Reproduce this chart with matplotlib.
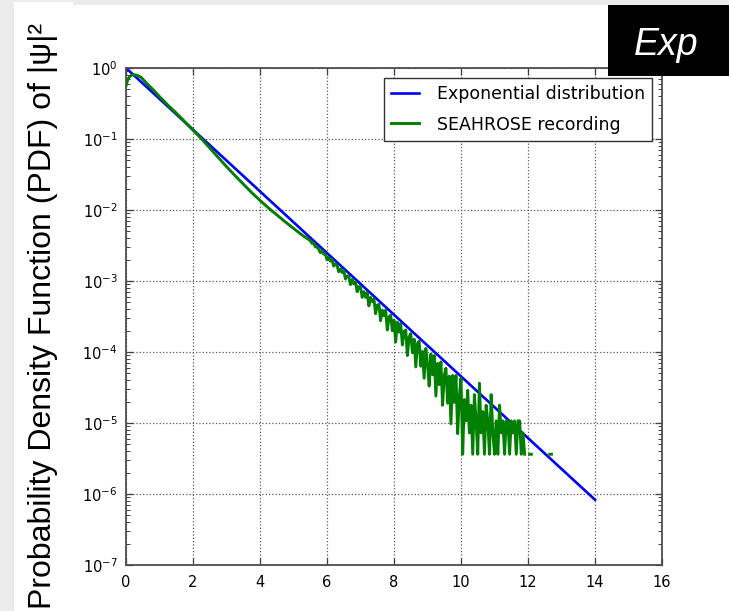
import matplotlib
matplotlib.use("Agg")
import matplotlib.pyplot as plt
from matplotlib.patches import Rectangle
import numpy as np

# exponential distribution, straight line on the semilog axis
expo_x = [0.0, 14.0]
expo_y = [1.0, 8.3e-7]

# SEAHROSE recording, smooth head of the PDF
rec_head_x = [0.0, 0.05, 0.1, 0.15, 0.2, 0.27, 0.35, 0.45, 0.6, 0.8, 1.0, 1.25,
              1.5, 1.75, 2.0, 2.25, 2.5, 2.75, 3.0, 3.25, 3.5, 3.75, 4.0, 4.25,
              4.5, 4.75, 5.0, 5.25]
rec_head_y = [0.56, 0.68, 0.75, 0.785, 0.80, 0.80, 0.78, 0.74, 0.62, 0.50,
              0.395, 0.30, 0.232, 0.176, 0.134, 0.101, 0.0747, 0.0550, 0.0408,
              0.0307, 0.0233, 0.0176, 0.01365, 0.0107, 0.00855, 0.00683, 0.00553,
              0.00446]

# noisy tail, histogram bins of width 0.05 starting at 5.5 (log10 of the PDF)
tail_bin_start = 5.5
tail_bin_width = 0.05
nan = float("nan")
rec_tail_log10 = [
    -2.43, -2.47, -2.46, -2.52, -2.52, -2.55, -2.60, -2.57, -2.62, -2.62,
    -2.70, -2.67, -2.72, -2.70, -2.79, -2.76, -2.78, -2.87, -2.83, -2.88,
    -2.85, -2.97, -2.93, -2.93, -3.05, -2.98, -3.04, -3.01, -3.15, -3.08,
    -3.08, -3.23, -3.15, -3.23, -3.16, -3.35, -3.23, -3.29, -3.25, -3.46,
    -3.34, -3.33, -3.56, -3.41, -3.49, -3.41, -3.69, -3.51, -3.48, -3.70,
    -3.55, -3.86, -3.58, -3.72, -3.60, -3.90, -3.71, -3.69, -4.05, -3.79,
    -3.74, -4.01, -3.82, -4.21, -3.88, -3.85, -4.20, -3.99, -4.37, -3.95,
    -4.16, -4.48, -4.03, -4.32, -4.05, -4.62, -4.16, -4.46, -4.14, -4.75,
    -4.33, -4.23, -4.72, -4.34, -5.01, -4.33, -4.71, -4.33, -5.15, -4.62,
    -4.37, -5.44, -4.67, -4.97, -4.54, -5.14, -4.75, -5.44, -4.60, -4.97,
    -5.44, -4.44, -5.14, -4.84, -5.44, -4.75, -4.97, -5.44, -4.60, -5.14,
    -5.44, -4.97, -5.44, -4.75, -5.14, -4.97, -5.44, -4.97, -4.97, -5.44,
    -4.97, -5.14, -4.97, -5.44, -4.97, -4.97, -5.44, -5.14, -5.44, nan,
    nan, -5.44, -5.44, nan, nan, nan, nan, nan, nan, nan,
    nan, nan, nan, -5.44, -5.44,
]

x_ticks = [0, 2, 4, 6, 8, 10, 12, 14, 16]
legend_labels = ["Exponential distribution", "SEAHROSE recording"]
ylabel_text = "Probability Density Function (PDF) of |\u03c8|\u00b2"
badge_text = "Exp"

plt.rcParams["font.family"] = ["DejaVu Sans"]
plt.rcParams["axes.unicode_minus"] = False

W, H = 729, 611
fig = plt.figure(figsize=(W / 100, H / 100), dpi=100, facecolor="#ececec")

# white slide panel behind everything
fig.patches.append(Rectangle((14 / W, 0), 1 - 14 / W, 1 - 5 / H, transform=fig.transFigure,
                             facecolor="white", edgecolor="none", zorder=-10))
fig.patches.append(Rectangle((14 / W, 1 - 5 / H), 59 / W, 3 / H, transform=fig.transFigure,
                             facecolor="white", edgecolor="none", zorder=-10))

ax = fig.add_axes([126 / W, 1 - 565 / H, 536 / W, 497 / H])

tail_idx = np.arange(len(rec_tail_log10))
tail_x = tail_bin_start + tail_bin_width * tail_idx
tail_y = 10.0 ** np.array(rec_tail_log10)
rec_x = np.concatenate([rec_head_x, tail_x])
rec_y = np.concatenate([rec_head_y, tail_y])

ax.plot(expo_x, expo_y, color="#0000ff", lw=1.9, label=legend_labels[0])
ax.plot(rec_x, rec_y, color="#007f00", lw=2.1, label=legend_labels[1])

ax.set_yscale("log")
ax.set_xlim(0, 16)
ax.set_ylim(1e-7, 1)
ax.set_xticks(x_ticks)
ax.set_yticks([10.0 ** k for k in range(-7, 1)])

ax.grid(True, which="major", color="0.35", linestyle=":", linewidth=0.9)
ax.tick_params(which="both", direction="in", top=True, right=True,
               labelsize=10.5, color="0.25")
ax.tick_params(which="major", length=5, width=0.9)
ax.tick_params(which="minor", length=3, width=0.7)
ax.tick_params(axis="x", pad=7)
ax.tick_params(axis="y", pad=6)
for sp in ax.spines.values():
    sp.set_color("0.3")
    sp.set_linewidth(1.3)

leg = ax.legend(loc="upper right", fontsize=12.5, fancybox=False, framealpha=1,
                edgecolor="0.2", handlelength=1.6, handletextpad=1.0,
                labelspacing=0.7, borderpad=0.45, borderaxespad=0.55)
leg.get_frame().set_linewidth(1.0)

fig.text(43 / W, 1 - 316 / H, ylabel_text, rotation=90, ha="center", va="center",
         fontsize=23, family="Liberation Sans", color="black")

# black badge in the corner
fig.patches.append(Rectangle((608 / W, 1 - 76 / H), 121 / W, 71 / H, transform=fig.transFigure,
                             facecolor="black", edgecolor="none", zorder=5))
fig.text(666 / W, 1 - 55 / H, badge_text, ha="center", va="baseline", fontsize=27,
         style="italic", family="Liberation Sans", color="white", zorder=6)

fig.savefig("out.png", dpi=100, facecolor=fig.get_facecolor())
